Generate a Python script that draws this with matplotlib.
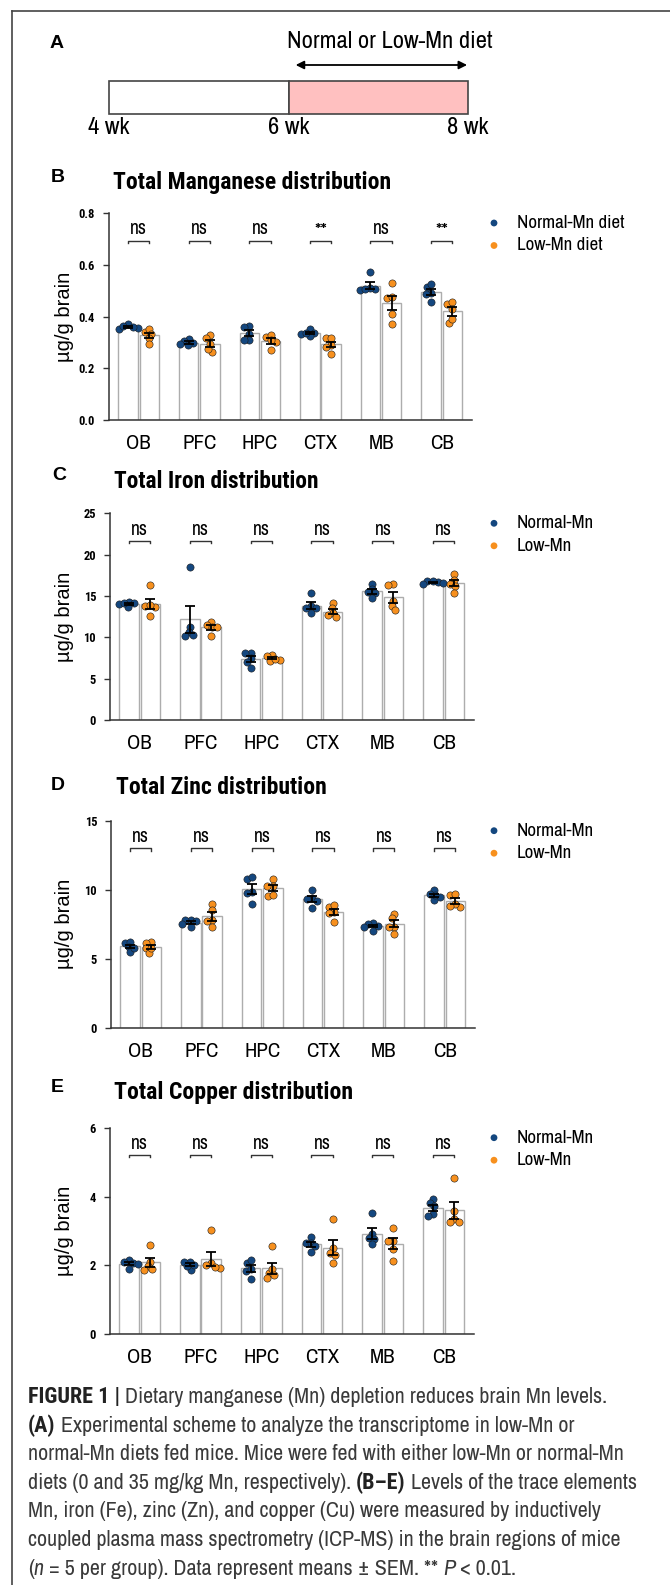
import numpy as np
import matplotlib
matplotlib.use("Agg")
import matplotlib.pyplot as plt
import matplotlib.transforms as mtransforms

W, H = 670, 1585

regions = ["OB", "PFC", "HPC", "CTX", "MB", "CB"]
weeks = [4, 6, 8]

# individual animals (n = 5)
mn_normal = [[0.370, 0.357, 0.352, 0.360, 0.362], [0.312, 0.305, 0.293, 0.298, 0.289],
             [0.362, 0.360, 0.334, 0.311, 0.308], [0.350, 0.337, 0.334, 0.325, 0.338],
             [0.571, 0.505, 0.502, 0.510, 0.505], [0.513, 0.524, 0.489, 0.457, 0.487]]
mn_low = [[0.340, 0.352, 0.334, 0.315, 0.293], [0.328, 0.315, 0.295, 0.263, 0.276],
          [0.321, 0.330, 0.302, 0.269, 0.308], [0.315, 0.317, 0.289, 0.256, 0.282],
          [0.531, 0.470, 0.475, 0.410, 0.370], [0.447, 0.455, 0.430, 0.375, 0.390]]
fe_normal = [[14.3, 14.1, 13.7, 14.0, 14.2], [18.5, 11.2, 10.6, 10.2, 10.3],
             [8.15, 8.15, 7.46, 6.25, 7.06], [15.4, 13.8, 13.5, 12.9, 13.6],
             [16.5, 15.8, 15.5, 15.3, 14.7], [16.8, 16.7, 16.6, 16.5, 16.8]]
fe_low = [[16.3, 13.7, 12.6, 13.8, 13.9], [11.9, 11.5, 11.3, 10.2, 11.2],
          [7.9, 7.7, 7.3, 7.1, 7.4], [14.1, 13.5, 12.9, 12.4, 12.7],
          [16.5, 16.3, 14.4, 13.8, 13.3], [17.7, 16.9, 16.5, 16.2, 15.4]]
zn_normal = [[6.11, 6.23, 5.87, 5.51, 5.75], [7.8, 7.8, 7.3, 7.5, 7.7],
             [10.8, 10.9, 9.85, 9.78, 8.96], [9.97, 9.4, 9.2, 8.7, 9.3],
             [7.56, 7.51, 7.03, 7.32, 7.37], [9.97, 9.69, 9.44, 9.25, 9.61]]
zn_low = [[6.23, 6.16, 5.75, 5.43, 5.75], [9.0, 8.5, 7.8, 7.3, 7.7],
          [10.8, 10.3, 10.3, 9.54, 9.6], [8.77, 8.89, 8.4, 8.33, 7.68],
          [8.24, 7.92, 7.32, 7.32, 6.79], [9.61, 9.69, 8.77, 8.96, 8.82]]
cu_normal = [[2.16, 2.11, 1.89, 2.06, 2.04], [2.11, 2.11, 1.87, 1.98, 2.01],
             [2.06, 2.16, 1.85, 1.60, 1.89], [2.84, 2.64, 2.66, 2.40, 2.55],
             [3.53, 2.91, 2.79, 2.76, 2.62], [3.92, 3.80, 3.73, 3.49, 3.44]]
cu_low = [[2.58, 2.11, 1.98, 1.87, 1.89], [3.03, 2.06, 2.01, 1.92, 1.95],
          [2.57, 1.77, 1.89, 1.63, 1.72], [3.34, 2.50, 2.37, 2.30, 2.06],
          [3.10, 2.72, 2.72, 2.47, 2.14], [4.53, 3.58, 3.34, 3.27, 3.27]]

mn_sig = ["ns", "ns", "ns", "**", "ns", "**"]
fe_sig = ["ns"] * 6
zn_sig = ["ns"] * 6
cu_sig = ["ns"] * 6

mn_ticks = [0.0, 0.2, 0.4, 0.6, 0.8]
fe_ticks = [0, 5, 10, 15, 20, 25]
zn_ticks = [0, 5, 10, 15]
cu_ticks = [0, 2, 4, 6]

NAVY = "#14477f"
ORANGE = "#f7901e"
NARROW = ["Archivo Narrow", "Liberation Sans", "DejaVu Sans"]
BOLDN = ["Roboto Condensed", "PT Sans Narrow", "Liberation Sans", "DejaVu Sans"]
SANS = ["Liberation Sans", "DejaVu Sans"]

fig = plt.figure(figsize=(W / 100, H / 100), dpi=100)
renderer = fig.canvas.get_renderer()


def px_axes(left, top, right, bottom):
    return fig.add_axes([left / W, 1 - bottom / H, (right - left) / W, (bottom - top) / H])


def fit(t, width):
    # rescale a text object so that it spans `width` pixels
    w = t.get_window_extent(renderer).width
    t.set_fontsize(t.get_fontsize() * width / w)
    return t.get_fontsize()


# overlay in pixel coordinates for border and caption
over = px_axes(0, 0, W, H)
over.set_xlim(0, W)
over.set_ylim(H, 0)
over.axis("off")
over.plot([11.5, 11.5], [10.5, H + 5], color="#444444", lw=1.2, clip_on=False)
over.plot([11.5, W + 5], [10.5, 10.5], color="#444444", lw=1.2, clip_on=False)

# ---- panel A: timeline
over.text(57, 44, "A", fontsize=14, fontweight="bold", family=SANS, va="center", ha="center")
axA = px_axes(109, 81, 468, 114)
axA.set_xlim(weeks[0], weeks[-1])
axA.set_ylim(0, 1)
axA.axis("off")
axA.barh(0.5, weeks[1] - weeks[0], left=weeks[0], height=1, color="white",
         edgecolor="#444444", lw=1.2, clip_on=False)
axA.barh(0.5, weeks[2] - weeks[1], left=weeks[1], height=1, color="#ffc0c0",
         edgecolor="#444444", lw=1.2, clip_on=False)
axA.annotate("", xy=(weeks[2] - 0.01, 1.485), xytext=(weeks[1] + 0.08, 1.485),
             xycoords="data", annotation_clip=False,
             arrowprops=dict(arrowstyle="<|-|>", color="black", lw=1.3,
                             shrinkA=0, shrinkB=0, mutation_scale=12))
t = over.text(390, 42, "Normal or Low-Mn diet", ha="center", va="center", fontsize=14, family=NARROW)
a_size = fit(t, 205)
for wk in weeks:
    axA.text(wk, -0.42, f"{wk} wk", ha="center", va="center", fontsize=a_size, family=NARROW)


def swarm_x(ax, xc, vals, diam):
    tr = ax.transData
    x0 = tr.transform((xc, 0))[0]
    cands = np.arange(-2 * diam, 2 * diam + 0.01, 0.5)
    cands = cands[np.argsort(np.abs(cands), kind="stable")]
    placed = []
    xs = np.zeros(len(vals))
    for i in np.argsort(vals)[::-1]:
        ypx = tr.transform((xc, vals[i]))[1]
        for c in cands:
            xpx = x0 + c
            if all((xpx - a) ** 2 + (ypx - b) ** 2 >= (diam * 0.72) ** 2 for a, b in placed):
                break
        placed.append((xpx, ypx))
        xs[i] = tr.inverted().transform((xpx, ypx))[0]
    return xs


panels = [
    ("B", "Total Manganese distribution", mn_normal, mn_low, mn_sig, mn_ticks, "{:.1f}",
     ["Normal-Mn diet", "Low-Mn diet"], (109, 213, 472, 420), (58, 177), (113, 182)),
    ("C", "Total Iron distribution", fe_normal, fe_low, fe_sig, fe_ticks, "{:d}",
     ["Normal-Mn", "Low-Mn"], (110, 513.3, 474, 720), (59, 476), (114.5, 482)),
    ("D", "Total Zinc distribution", zn_normal, zn_low, zn_sig, zn_ticks, "{:d}",
     ["Normal-Mn", "Low-Mn"], (111, 820.7, 475, 1027.7), (58, 785), (116, 788)),
    ("E", "Total Copper distribution", cu_normal, cu_low, cu_sig, cu_ticks, "{:d}",
     ["Normal-Mn", "Low-Mn"], (110, 1127.7, 474, 1334.3), (57.5, 1087), (114.5, 1093)),
]
title_widths = {"B": 278, "C": 205, "D": 210, "E": 239}
legend_widths = {"Normal-Mn diet": 107, "Normal-Mn": 77}

off, bw = 0.175, 0.32
x = np.arange(len(regions))

for letter, title, normal, low, sig, ticks, fmt, labels, rect, lpos, tpos in panels:
    ax = px_axes(*rect)
    ax.set_xlim(-0.49, len(regions) - 0.5)
    ax.set_ylim(0, ticks[-1])
    normal = np.array(normal)
    low = np.array(low)
    for arr, sgn, col in [(normal, -1, NAVY), (low, 1, ORANGE)]:
        means = arr.mean(axis=1)
        sems = arr.std(axis=1, ddof=1) / np.sqrt(arr.shape[1])
        ax.bar(x + sgn * off, means, width=bw, color="white", edgecolor="#adadad", lw=1.0, zorder=1)
        for i in range(len(regions)):
            xs = swarm_x(ax, x[i] + sgn * off, arr[i], 7.0)
            ax.scatter(xs, arr[i], s=27, color=col, edgecolor="#1a1a1a", lw=0.4, zorder=2)
        ax.errorbar(x + sgn * off, means, yerr=sems, fmt="none", ecolor="black",
                    elinewidth=1.3, capsize=3.6, capthick=1.3, zorder=3)
    tb = mtransforms.blended_transform_factory(ax.transData, ax.transAxes)
    for i, s in enumerate(sig):
        x0, x1 = x[i] - off, x[i] + off
        ax.plot([x0, x0, x1, x1], [0.856, 0.866, 0.866, 0.856], color="#333333", lw=1.0,
                transform=tb, clip_on=False)
        t = ax.text(x[i], 0.923 if s == "ns" else 0.912, s, transform=tb, ha="center", va="center",
                    fontsize=12, family=NARROW)
        fit(t, 17 if s == "ns" else 13)
    ax.set_xticks(x)
    ax.set_xticklabels(regions, family=NARROW, fontsize=15)
    ax.tick_params(axis="x", length=0, pad=10)
    ax.set_yticks(ticks)
    ax.set_yticklabels([fmt.format(t) for t in ticks], family=BOLDN, fontsize=9, fontweight="bold")
    ax.tick_params(axis="y", length=4, width=1.0, pad=6, color="#333333")
    for sp in ["top", "right"]:
        ax.spines[sp].set_visible(False)
    for sp in ["left", "bottom"]:
        ax.spines[sp].set_color("#333333")
        ax.spines[sp].set_linewidth(1.1)
    ax.set_facecolor("none")
    # legend
    ta = ax.transAxes
    hgt = rect[3] - rect[1]
    wid = rect[2] - rect[0]
    leg_size = None
    for k, (lab, col) in enumerate(zip(labels, [NAVY, ORANGE])):
        ypx = rect[1] + 10 + 22.5 * k
        yf = (rect[3] - ypx) / hgt
        ax.scatter([(494 - rect[0]) / wid], [yf], s=24, color=col, edgecolor="none",
                   transform=ta, clip_on=False)
        t = ax.text((517 - rect[0]) / wid, yf, lab, transform=ta, ha="left", va="center",
                    fontsize=leg_size or 14, family=NARROW)
        if leg_size is None:
            leg_size = fit(t, legend_widths[lab])
    fig.text(64 / W, 1 - (rect[1] + rect[3]) / 2 / H, "µg/g brain", rotation=90, ha="center",
             va="center", fontsize=14.5, family=SANS)
    over.text(lpos[0], lpos[1], letter, fontsize=14, fontweight="bold", family=SANS,
              va="center", ha="center")
    t = over.text(tpos[0], tpos[1], title, fontsize=16, fontweight="bold", family=BOLDN,
                  va="center", ha="left")
    fit(t, title_widths[letter])

# ---- caption
caption = [
    [("FIGURE 1 |", "bold", "normal"), (" Dietary manganese (Mn) depletion reduces brain Mn levels.", "normal", "normal")],
    [("(A)", "bold", "normal"), (" Experimental scheme to analyze the transcriptome in low-Mn or", "normal", "normal")],
    [("normal-Mn diets fed mice. Mice were fed with either low-Mn or normal-Mn", "normal", "normal")],
    [("diets (0 and 35 mg/kg Mn, respectively). ", "normal", "normal"), ("(B–E)", "bold", "normal"),
     (" Levels of the trace elements", "normal", "normal")],
    [("Mn, iron (Fe), zinc (Zn), and copper (Cu) were measured by inductively", "normal", "normal")],
    [("coupled plasma mass spectrometry (ICP-MS) in the brain regions of mice", "normal", "normal")],
    [("(", "normal", "normal"), ("n", "normal", "italic"), (" = 5 per group). Data represent means ± SEM. ** ", "normal", "normal"),
     ("P", "normal", "italic"), (" < 0.01.", "normal", "normal")],
]


def draw_line(segs, ybase, size):
    xpos = 28
    arts = []
    for txt, wt, st in segs:
        fam = BOLDN if wt == "bold" else NARROW
        t = over.text(xpos, ybase, txt, fontsize=size, fontweight=wt, fontstyle=st, family=fam,
                      color="#222222" if wt == "bold" else "#3a3a3a", va="baseline", ha="left")
        xpos += t.get_window_extent(renderer).width
        arts.append(t)
    return arts, xpos - 28


arts, w1 = draw_line(caption[2], 0, 12)
for a in arts:
    a.remove()
cap_size = 12 * 594 / w1
for li, segs in enumerate(caption):
    draw_line(segs, 1403 + 28.6 * li, cap_size)

fig.savefig("out.png", dpi=100)
